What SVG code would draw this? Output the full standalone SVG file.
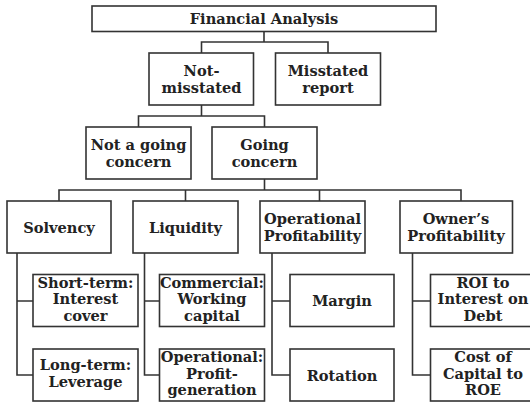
<svg xmlns="http://www.w3.org/2000/svg" width="530" height="402" viewBox="0 0 530 402">
<style>
.b{fill:#fff;stroke:#333;stroke-width:1.6}
.t{font-family:"DejaVu Serif","Liberation Serif",serif;font-weight:bold;font-size:14.6px;fill:#222;text-anchor:middle}
.c{fill:none;stroke:#333;stroke-width:1.6}
</style>
<rect width="530" height="402" fill="#fff"/>
<g id="connectors" class="c">
<path d="M264 31.5V42M201.5 53V42H328V53"/>
<path d="M201.5 105V116M138.5 127V116H264.5V127"/>
<path d="M264.5 179V190M59 201V190H461V201M185.5 190V201M319.5 190V201"/>
<path d="M17 253V375H33M17 301H33"/>
<path d="M144.5 253V375H159.5M144.5 301H159.5"/>
<path d="M272 253V375H290M272 301H290"/>
<path d="M412.5 253V375H430.5M412.5 301H430.5"/>
</g>
<g id="financial-analysis"><rect class="b" x="92" y="6" width="344" height="25.5"/><text class="t" x="264" y="24">Financial Analysis</text></g>
<g id="not-misstated"><rect class="b" x="149" y="53" width="104.5" height="52"/><text class="t" x="201.5" y="76">Not-<tspan x="201.5" dy="16.7">misstated</tspan></text></g>
<g id="misstated-report"><rect class="b" x="275.5" y="53" width="105" height="52"/><text class="t" x="328" y="76">Misstated<tspan x="328" dy="16.7">report</tspan></text></g>
<g id="not-going-concern"><rect class="b" x="86" y="127" width="105" height="52"/><text class="t" x="138.5" y="150">Not a going<tspan x="138.5" dy="16.7">concern</tspan></text></g>
<g id="going-concern"><rect class="b" x="212" y="127" width="105" height="52"/><text class="t" x="264.5" y="150">Going<tspan x="264.5" dy="16.7">concern</tspan></text></g>
<g id="solvency"><rect class="b" x="7" y="201" width="104" height="52"/><text class="t" x="59" y="232.5">Solvency</text></g>
<g id="liquidity"><rect class="b" x="133" y="201" width="105" height="52"/><text class="t" x="185.5" y="232.5">Liquidity</text></g>
<g id="operational-profitability"><rect class="b" x="260" y="201" width="105" height="52"/><text class="t" x="312.5" y="224">Operational<tspan x="312.5" dy="16.7">Profitability</tspan></text></g>
<g id="owners-profitability"><rect class="b" x="400" y="201" width="112.5" height="52"/><text class="t" x="456" y="224">Owner’s<tspan x="456" dy="16.7">Profitability</tspan></text></g>
<g id="short-term"><rect class="b" x="33" y="274.5" width="105" height="52"/><text class="t" x="85.5" y="287.5">Short-term:<tspan x="85.5" dy="16.7">Interest</tspan><tspan x="85.5" dy="16.7">cover</tspan></text></g>
<g id="long-term"><rect class="b" x="33" y="349" width="105" height="52"/><text class="t" x="85.5" y="370">Long-term:<tspan x="85.5" dy="16.7">Leverage</tspan></text></g>
<g id="commercial"><rect class="b" x="159.5" y="274.5" width="105" height="52"/><text class="t" x="212" y="287.5">Commercial:<tspan x="212" dy="16.7">Working</tspan><tspan x="212" dy="16.7">capital</tspan></text></g>
<g id="operational"><rect class="b" x="159.5" y="349" width="105" height="52"/><text class="t" x="212" y="362">Operational:<tspan x="212" dy="16.7">Profit-</tspan><tspan x="212" dy="16.7">generation</tspan></text></g>
<g id="margin"><rect class="b" x="290" y="274.5" width="104" height="52"/><text class="t" x="342" y="306">Margin</text></g>
<g id="rotation"><rect class="b" x="290" y="349" width="104" height="52"/><text class="t" x="342" y="380.5">Rotation</text></g>
<g id="roi"><rect class="b" x="430.5" y="274.5" width="105" height="52"/><text class="t" x="483" y="287.5">ROI to<tspan x="483" dy="16.7">Interest on</tspan><tspan x="483" dy="16.7">Debt</tspan></text></g>
<g id="cost-of-capital"><rect class="b" x="430.5" y="349" width="105" height="52"/><text class="t" x="483" y="362">Cost of<tspan x="483" dy="16.7">Capital to</tspan><tspan x="483" dy="16.7">ROE</tspan></text></g>
</svg>
